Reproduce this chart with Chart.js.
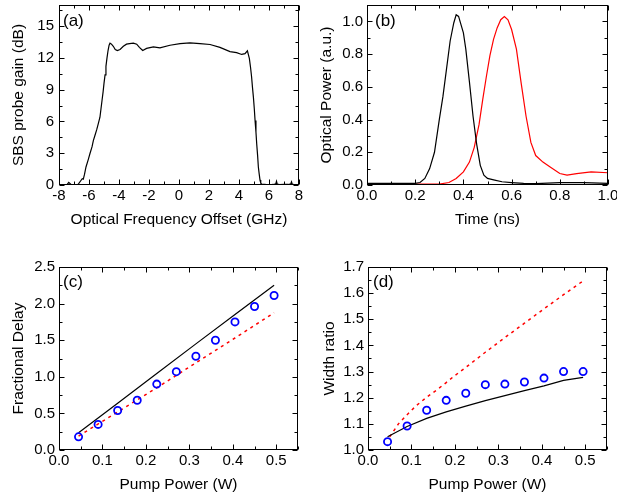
<!DOCTYPE html>
<html>
<head>
<meta charset="utf-8">
<script src="https://cdn.jsdelivr.net/npm/chart.js@4.4.1/dist/chart.umd.min.js"></script>
<style>
  html, body { margin: 0; padding: 0; background: #fff; }
  .stage { position: relative; width: 617px; height: 500px; overflow: hidden; }
  .stage canvas { position: absolute; }
</style>
</head>
<body>
<div class="stage">
  <canvas id="panelA" width="308" height="232" style="left:0;top:0"></canvas>
  <canvas id="panelB" width="309" height="232" style="left:308px;top:0"></canvas>
  <canvas id="panelC" width="308" height="250" style="left:0;top:250px"></canvas>
  <canvas id="panelD" width="309" height="250" style="left:308px;top:250px"></canvas>
</div>
<script>
// (a) SBS gain spectrum
const freqA = [-8, -7.6, -7.45, -7.35, -7.2, -7.0, -6.8, -6.7, -6.55, -6.45, -6.38, -6.3, -6.2, -6.05, -5.93, -5.8, -5.71, -5.6, -5.49, -5.38, -5.27, -5.2, -5.13, -5.06, -5.0, -4.93, -4.87, -4.8, -4.73, -4.66, -4.6, -4.5, -4.38, -4.25, -4.11, -3.93, -3.71, -3.5, -3.3, -3.04, -2.82, -2.64, -2.42, -2.16, -1.71, -1.27, -0.6, 0.07, 0.73, 1.4, 2.07, 2.73, 3.4, 3.84, 4.18, 4.4, 4.56, 4.69, 4.77, 4.84, 4.9, 4.96, 5.02, 5.07, 5.13, 5.18, 5.24, 5.29, 5.35, 5.4, 5.45, 5.51, 5.7, 6.0, 6.3, 6.45, 6.5, 6.55, 6.7, 7.0, 7.3, 7.45, 7.5, 7.55, 7.7, 8.0];
const gainA = [0, 0, 0.05, 0.25, 0.05, 0, 0, 0.1, 0.4, 0.6, 0.55, 1.0, 1.7, 2.4, 3.0, 3.6, 4.2, 4.7, 5.2, 5.8, 6.4, 7.2, 8.0, 8.8, 9.6, 10.4, 11.2, 12.0, 12.7, 13.2, 13.4, 13.3, 13.1, 12.8, 12.7, 12.8, 13.1, 13.3, 13.35, 13.4, 13.3, 13.0, 12.7, 12.9, 13.05, 12.95, 13.2, 13.36, 13.42, 13.36, 13.27, 13.0, 12.6, 12.5, 12.33, 12.4, 12.67, 11.95, 11.1, 10.2, 9.2, 8.3, 7.2, 6.1, 5.0, 3.9, 2.8, 1.7, 1.0, 0.47, 0.2, 0.06, 0.05, 0.02, 0.05, 0.1, 0.35, 0.08, 0.03, 0.05, 0.05, 0.1, 0.3, 0.08, 0.02, 0];
const freqTicks = [-8, -6, -4, -2, 0, 2, 4, 6, 8];
const gainTicks = [0, 3, 6, 9, 12, 15];

// (b) pulses
const timeBlack = [0, 0.1, 0.2, 0.22, 0.24, 0.26, 0.28, 0.30, 0.315, 0.33, 0.345, 0.36, 0.37, 0.38, 0.39, 0.40, 0.41, 0.425, 0.44, 0.455, 0.47, 0.485, 0.50, 0.53, 0.56, 0.60, 0.65, 0.70, 0.80, 0.90, 1.0];
const powerBlack = [0.01, 0.01, 0.01, 0.015, 0.04, 0.1, 0.2, 0.4, 0.54, 0.71, 0.88, 0.99, 1.04, 1.03, 0.98, 0.93, 0.83, 0.63, 0.42, 0.25, 0.12, 0.06, 0.04, 0.03, 0.02, 0.015, 0.01, 0.008, 0.015, 0.015, 0.01];
const timeRed = [0, 0.3, 0.34, 0.37, 0.40, 0.425, 0.445, 0.465, 0.48, 0.495, 0.51, 0.525, 0.54, 0.555, 0.57, 0.585, 0.60, 0.62, 0.64, 0.66, 0.68, 0.70, 0.73, 0.76, 0.80, 0.83, 0.87, 0.93, 1.0];
const powerRed = [0.005, 0.005, 0.015, 0.04, 0.08, 0.14, 0.23, 0.37, 0.52, 0.66, 0.79, 0.89, 0.96, 1.01, 1.03, 1.01, 0.95, 0.83, 0.62, 0.42, 0.26, 0.18, 0.14, 0.11, 0.07, 0.06, 0.07, 0.08, 0.075];
const timeTicks = [0, 0.2, 0.4, 0.6, 0.8, 1.0];
const powerTicks = [0, 0.2, 0.4, 0.6, 0.8, 1.0];

// (c), (d) versus pump power
const pumpPower = [0.045, 0.09, 0.135, 0.18, 0.225, 0.27, 0.315, 0.36, 0.405, 0.45, 0.495];
const delayMeasured = [0.18, 0.35, 0.54, 0.68, 0.90, 1.07, 1.28, 1.50, 1.75, 1.96, 2.11];
const pumpTheory = [0.045, 0.135, 0.225, 0.315, 0.405, 0.495];
const delayTheory = [0.235, 0.64, 1.045, 1.45, 1.85, 2.25];
const delayModel = [0.19, 0.52, 0.85, 1.19, 1.53, 1.875];
const widthMeasured = [1.032, 1.092, 1.152, 1.19, 1.217, 1.25, 1.252, 1.26, 1.275, 1.30, 1.30];
const widthTheory = [1.051, 1.09, 1.121, 1.146, 1.168, 1.189, 1.208, 1.227, 1.245, 1.266, 1.278];
const pumpModel = [0.05, 0.07, 0.09, 0.11, 0.135, 0.16, 0.18, 0.2, 0.225, 0.27, 0.315, 0.36, 0.405, 0.45, 0.495];
const widthModel = [1.05, 1.10, 1.135, 1.168, 1.202, 1.232, 1.258, 1.285, 1.316, 1.374, 1.43, 1.485, 1.54, 1.594, 1.647];
const pumpTicks = [0, 0.1, 0.2, 0.3, 0.4, 0.5];
const delayTicks = [0, 0.5, 1.0, 1.5, 2.0, 2.5];
const widthTicks = [1.0, 1.1, 1.2, 1.3, 1.4, 1.5, 1.6, 1.7];

Chart.defaults.font.family = '"Liberation Sans", Arial, sans-serif';
Chart.defaults.color = '#000';

function pts(xs, ys) {
  return xs.map(function (x, i) { return { x: x, y: ys[i] }; });
}

function oneDecimal(value) {
  return Number(value).toFixed(1);
}

// frame on all four sides with inward major/minor ticks, plus the panel letter
const frameTicks = {
  id: 'frameTicks',
  afterDraw: function (chart, args, opts) {
    const ctx = chart.ctx;
    const a = chart.chartArea;
    const L = Math.round(a.left) + 0.5, R = Math.round(a.right) - 0.5;
    const T = Math.round(a.top) + 0.5, B = Math.round(a.bottom) - 0.5;
    ctx.save();
    ctx.strokeStyle = '#000';
    ctx.lineWidth = 1;
    ctx.strokeRect(L, T, R - L, B - T);

    function marks(scale, step, horizontal) {
      const n = Math.round((scale.max - scale.min) / step);
      ctx.beginPath();
      for (let i = 0; i <= n; i++) {
        const v = scale.min + i * step;
        const major = scale.ticks.some(function (t) { return Math.abs(t.value - v) < step / 10; });
        const len = major ? 5 : 3;
        const p = Math.round(scale.getPixelForValue(v)) + 0.5;
        if (horizontal) {
          ctx.moveTo(p, B); ctx.lineTo(p, B - len);
          ctx.moveTo(p, T); ctx.lineTo(p, T + len);
        } else {
          ctx.moveTo(L, p); ctx.lineTo(L + len, p);
          ctx.moveTo(R, p); ctx.lineTo(R - len, p);
        }
      }
      ctx.stroke();
    }
    marks(chart.scales.x, opts.xMinor, true);
    marks(chart.scales.y, opts.yMinor, false);

    ctx.fillStyle = '#000';
    ctx.font = '17px "Liberation Sans", Arial, sans-serif';
    ctx.textAlign = 'left';
    ctx.textBaseline = 'middle';
    ctx.fillText(opts.label, a.left + opts.labelX, a.top + opts.labelY);
    ctx.restore();
  }
};

function axis(a, horizontal) {
  return {
    type: 'linear',
    min: a.min,
    max: a.max,
    grid: { display: false, drawTicks: false },
    border: { display: false },
    afterBuildTicks: function (scale) {
      scale.ticks = a.ticks.map(function (v) { return { value: v }; });
    },
    afterFit: function (scale) {
      if (horizontal) {
        scale.height = a.size;
      } else {
        scale.width = a.size;
      }
      scale.paddingLeft = 0;
      scale.paddingRight = 0;
      scale.paddingTop = 0;
      scale.paddingBottom = 0;
    },
    ticks: {
      padding: a.pad,
      font: { size: 15 },
      color: '#000',
      maxRotation: 0,
      autoSkip: false,
      callback: a.format
    },
    title: {
      display: true,
      text: a.title,
      font: { size: 15.5 },
      color: '#000',
      padding: a.titlePad
    }
  };
}

function makePanel(id, cfg) {
  return new Chart(document.getElementById(id), {
    type: 'scatter',
    data: { datasets: cfg.datasets },
    options: {
      responsive: false,
      animation: false,
      events: [],
      layout: { padding: cfg.padding },
      plugins: {
        legend: { display: false },
        tooltip: { enabled: false },
        frameTicks: cfg.frame
      },
      scales: {
        x: axis(cfg.x, true),
        y: axis(cfg.y, false)
      }
    },
    plugins: [frameTicks]
  });
}

function lineSet(xs, ys, color, dashed) {
  return {
    data: pts(xs, ys),
    showLine: true,
    borderColor: color,
    borderWidth: dashed ? 1.5 : 1.2,
    borderDash: dashed ? [3, 4] : [],
    pointRadius: 0,
    fill: false
  };
}

function circleSet(xs, ys) {
  return {
    data: pts(xs, ys),
    showLine: false,
    pointStyle: 'circle',
    pointRadius: 3.6,
    pointBorderWidth: 1.8,
    pointBorderColor: '#0000ff',
    pointBackgroundColor: 'rgba(0,0,0,0)'
  };
}

makePanel('panelA', {
  padding: { left: 0, top: 5, right: 9, bottom: 0 },
  frame: { xMinor: 1, yMinor: 1.5, label: '(a)', labelX: 4, labelY: 16 },
  x: { min: -8, max: 8, ticks: freqTicks, size: 47, pad: 2, titlePad: { top: 0, bottom: 3 },
       title: 'Optical Frequency Offset (GHz)', format: function (v) { return String(v); } },
  y: { min: 0, max: 17, ticks: gainTicks, size: 59, pad: 5, titlePad: { top: 9, bottom: 0 },
       title: 'SBS probe gain (dB)', format: function (v) { return String(v); } },
  datasets: [lineSet(freqA, gainA, '#000', false)]
});

makePanel('panelB', {
  padding: { left: 0, top: 5, right: 9, bottom: 0 },
  frame: { xMinor: 0.1, yMinor: 0.1, label: '(b)', labelX: 8, labelY: 16 },
  x: { min: 0, max: 1, ticks: timeTicks, size: 47, pad: 2, titlePad: { top: 0, bottom: 3 },
       title: 'Time (ns)', format: oneDecimal },
  y: { min: 0, max: 1.1, ticks: powerTicks, size: 59, pad: 4, titlePad: { top: 9.5, bottom: 0 },
       title: 'Optical Power (a.u.)', format: oneDecimal },
  datasets: [
    lineSet(timeBlack, powerBlack, '#000', false),
    lineSet(timeRed, powerRed, '#ff0000', false)
  ]
});

makePanel('panelC', {
  padding: { left: 0, top: 17, right: 10, bottom: 0 },
  frame: { xMinor: 0.05, yMinor: 0.25, label: '(c)', labelX: 4, labelY: 15 },
  x: { min: 0, max: 0.55, ticks: pumpTicks, size: 50, pad: 2, titlePad: { top: 0, bottom: 6 },
       title: 'Pump Power (W)', format: oneDecimal },
  y: { min: 0, max: 2.5, ticks: delayTicks, size: 59, pad: 4, titlePad: { top: 9, bottom: 0 },
       title: 'Fractional Delay', format: oneDecimal },
  datasets: [
    circleSet(pumpPower, delayMeasured),
    lineSet(pumpTheory, delayTheory, '#000', false),
    lineSet(pumpTheory, delayModel, '#ff0000', true)
  ]
});

makePanel('panelD', {
  padding: { left: 0, top: 17, right: 10, bottom: 0 },
  frame: { xMinor: 0.05, yMinor: 0.05, label: '(d)', labelX: 5, labelY: 15 },
  x: { min: 0, max: 0.55, ticks: pumpTicks, size: 50, pad: 2, titlePad: { top: 0, bottom: 6 },
       title: 'Pump Power (W)', format: oneDecimal },
  y: { min: 1.0, max: 1.7, ticks: widthTicks, size: 60, pad: 4, titlePad: { top: 12.5, bottom: 0 },
       title: 'Width ratio', format: oneDecimal },
  datasets: [
    circleSet(pumpPower, widthMeasured),
    lineSet(pumpPower, widthTheory, '#000', false),
    lineSet(pumpModel, widthModel, '#ff0000', true)
  ]
});
</script>
</body>
</html>
